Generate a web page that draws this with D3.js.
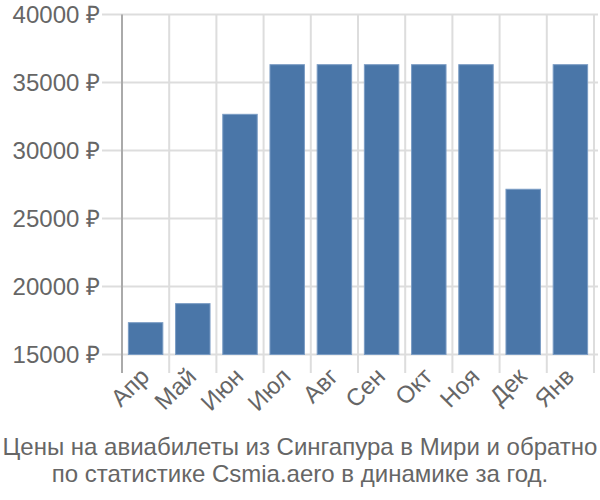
<!DOCTYPE html>
<html><head><meta charset="utf-8">
<script src="https://cdn.jsdelivr.net/npm/d3@7"></script>
<style>body{margin:0;background:#fff}svg{display:block}text{font-family:"Liberation Sans",Arial,sans-serif}</style>
</head><body>
<script>
const months = ["Апр","Май","Июн","Июл","Авг","Сен","Окт","Ноя","Дек","Янв"];
const prices = [17340,18740,32660,36310,36310,36310,36310,36310,27150,36310];
const yTicks = [15000,20000,25000,30000,35000,40000];
const titleLines = ["Цены на авиабилеты из Сингапура в Мири и обратно","по статистике Csmia.aero в динамике за год."];

const W=600,H=500;
const svg=d3.select("body").append("svg").attr("width",W).attr("height",H);
const x0=122,x1=594,yTop=14.5,yBot=354.5;
const x=d3.scaleBand().domain(months).range([x0,x1]).paddingInner(0.27).paddingOuter(0.135);
const y=d3.scaleLinear().domain([15000,40000]).range([yBot,yTop]);
const step=x.step();

svg.append("g").selectAll("line").data(yTicks).join("line")
 .attr("x1",102).attr("x2",598).attr("y1",d=>y(d)).attr("y2",d=>y(d))
 .attr("stroke","#dddddd").attr("stroke-width",2);
const bounds=d3.range(months.length+1).map(i=>x0+i*step);
svg.append("g").selectAll("line").data(bounds.slice(1)).join("line")
 .attr("x1",d=>d).attr("x2",d=>d).attr("y1",yTop).attr("y2",373)
 .attr("stroke","#dddddd").attr("stroke-width",2);
svg.append("line").attr("x1",x0).attr("x2",x0).attr("y1",yTop).attr("y2",373)
 .attr("stroke","#aaaaaa").attr("stroke-width",2);

svg.append("g").selectAll("rect").data(months).join("rect")
 .attr("x",d=>x(d)).attr("width",x.bandwidth())
 .attr("y",(d,i)=>y(prices[i])).attr("height",(d,i)=>yBot-y(prices[i]))
 .attr("fill","#4a76a8").attr("stroke","#7a9cc4").attr("stroke-width",1);

svg.append("g").selectAll("text").data(yTicks).join("text")
 .attr("x",100).attr("y",d=>y(d)).attr("dy","0.36em").attr("text-anchor","end")
 .attr("fill","#666").attr("font-size",24).text(d=>d+" ₽");

svg.append("g").selectAll("text").data(months).join("text")
 .attr("transform",d=>`translate(${x(d)+x.bandwidth()/2+5},${378}) rotate(-45)`)
 .attr("text-anchor","end").attr("fill","#666").attr("font-size",24).text(d=>d);

svg.append("g").selectAll("text").data(titleLines).join("text")
 .attr("x",300).attr("y",(d,i)=>455+i*27).attr("text-anchor","middle")
 .attr("fill","#666").attr("font-size",24).text(d=>d);
</script>
</body></html>
